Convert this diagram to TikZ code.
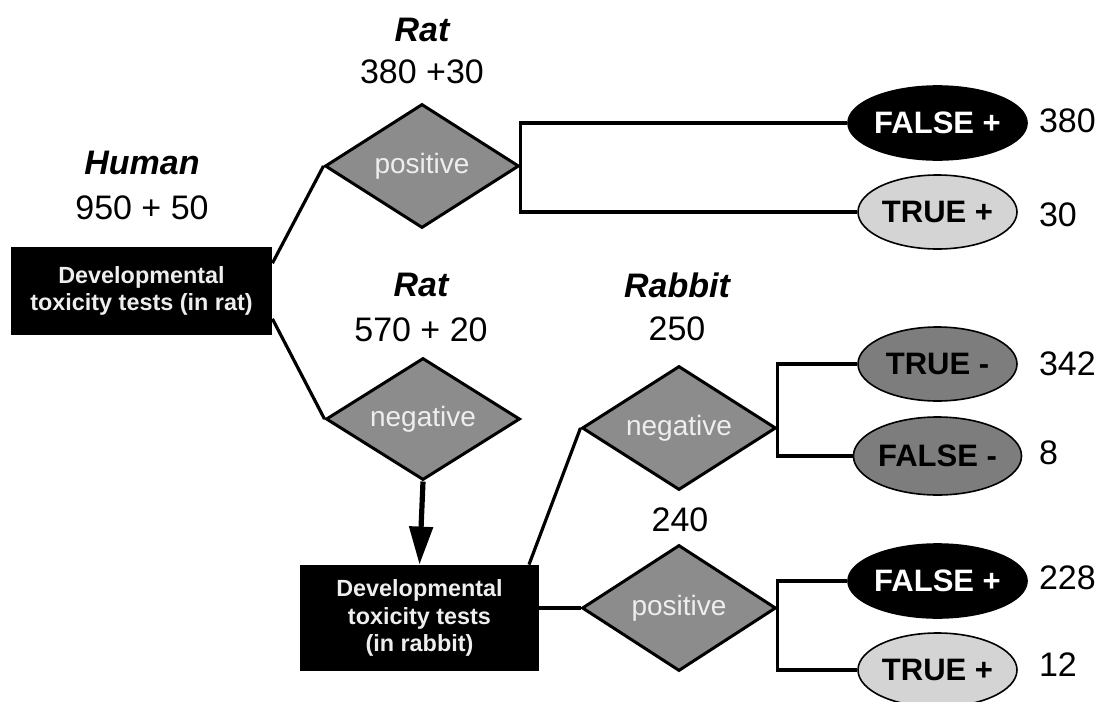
\documentclass[tikz,border=0pt]{standalone}
\usepackage{fontspec}
\setmainfont{Liberation Sans}
\usetikzlibrary{shapes.geometric,arrows.meta}

\definecolor{diagray}{RGB}{140,140,140}
\definecolor{darkoval}{RGB}{125,125,125}
\definecolor{lightoval}{RGB}{212,212,212}
\definecolor{softwhite}{RGB}{238,238,238}

\tikzset{
  testbox/.style={fill=black, text=softwhite, align=center, inner sep=0pt, font=\bfseries\fontsize{11.7}{13.8}\selectfont},
  decision/.style={diamond, draw=black, line width=1.5pt, fill=diagray, text=softwhite, inner sep=0pt, aspect=1.55, minimum width=97pt, minimum height=62pt, font=\fontsize{14}{16}\selectfont},
  outcome/.style={ellipse, draw=black, line width=0.8pt, inner sep=0pt, minimum width=79.5pt, minimum height=37pt, font=\bfseries\fontsize{15.5}{18}\selectfont},
  species/.style={font=\bfseries\itshape\fontsize{17}{20}\selectfont},
  tally/.style={font=\fontsize{17}{20}\selectfont},
  link/.style={line width=1.6pt},
}

\begin{document}
\begin{tikzpicture}[>=latex, x=0.5pt, y=-0.5pt]
    \useasboundingbox (0,0) rectangle (1104,702);

    \node [species] (human) at (142,163) {Human};
    \node [tally] (humannum) at (142,208) {950 + 50};
    \node [testbox, minimum width=130.5pt, minimum height=44pt] (ratbox) at (141.5,291) {Developmental\\toxicity tests (in rat)};

    \node [species] (ratup) at (422,30) {Rat};
    \node [tally] (ratupnum) at (422,72) {380 +30};
    \node [decision] (ratpos) at (422,166) {positive};
    \draw [link] (ratbox.12.5) -- (ratpos.west);

    \node [species] (ratdown) at (421,285) {Rat};
    \node [tally] (ratdownnum) at (421,330) {570 + 20};
    \node [decision, minimum height=61pt] (ratneg) at (423,419) {negative};
    \draw [link] (ratbox.-12) -- (ratneg.west);

    \node [outcome, fill=black, text=white] (ratfp) at (937.5,123) {FALSE +};
    \node [outcome, fill=lightoval] (rattp) at (937.5,212) {TRUE +};
    \draw [link] (ratfp.west) -| (ratpos.east) |- (rattp.west);
    \node [tally, anchor=west] (ratfpnum) at (1032,121) {380};
    \node [tally, anchor=west] (rattpnum) at (1032,215) {30};

    \node [testbox, minimum width=119.5pt, minimum height=53pt] (rabbitbox) at (419.5,618) {Developmental\\toxicity tests\\(in rabbit)};
    \draw [->, >={Triangle[width=11.5pt,length=19pt]}, line width=2.6pt] (ratneg.south) -- (rabbitbox.north);

    \node [species] (rabbit) at (677,285) {Rabbit};
    \node [tally] (rabbitnum) at (677,329) {250};
    \node [decision] (rabneg) at (679,428) {negative};
    \draw [link] (rabbitbox.26) -- (rabneg.west);

    \node [tally] (rabposnum) at (680,520) {240};
    \node [decision, minimum height=63pt] (rabpos) at (679,608) {positive};
    \draw [link] (rabpos.west) -- (rabpos.west -| rabbitbox.east);

    \node [outcome, fill=darkoval] (rabtn) at (937.5,364) {TRUE -};
    \node [outcome, fill=darkoval, minimum height=39pt] (rabfn) at (937.5,456) {FALSE -};
    \draw [link] (rabtn.west) -| (rabneg.east) |- (rabfn.west);
    \node [tally, anchor=west] (rabtnnum) at (1032,364) {342};
    \node [tally, anchor=west] (rabfnnum) at (1032,453) {8};

    \node [outcome, fill=black, text=white] (rabfp) at (937.5,581) {FALSE +};
    \node [outcome, fill=lightoval] (rabtp) at (937.5,670) {TRUE +};
    \draw [link] (rabfp.west) -| (rabpos.east) |- (rabtp.west);
    \node [tally, anchor=west] (rabfpnum) at (1032,578) {228};
    \node [tally, anchor=west] (rabtpnum) at (1032,665) {12};
\end{tikzpicture}
\end{document}
